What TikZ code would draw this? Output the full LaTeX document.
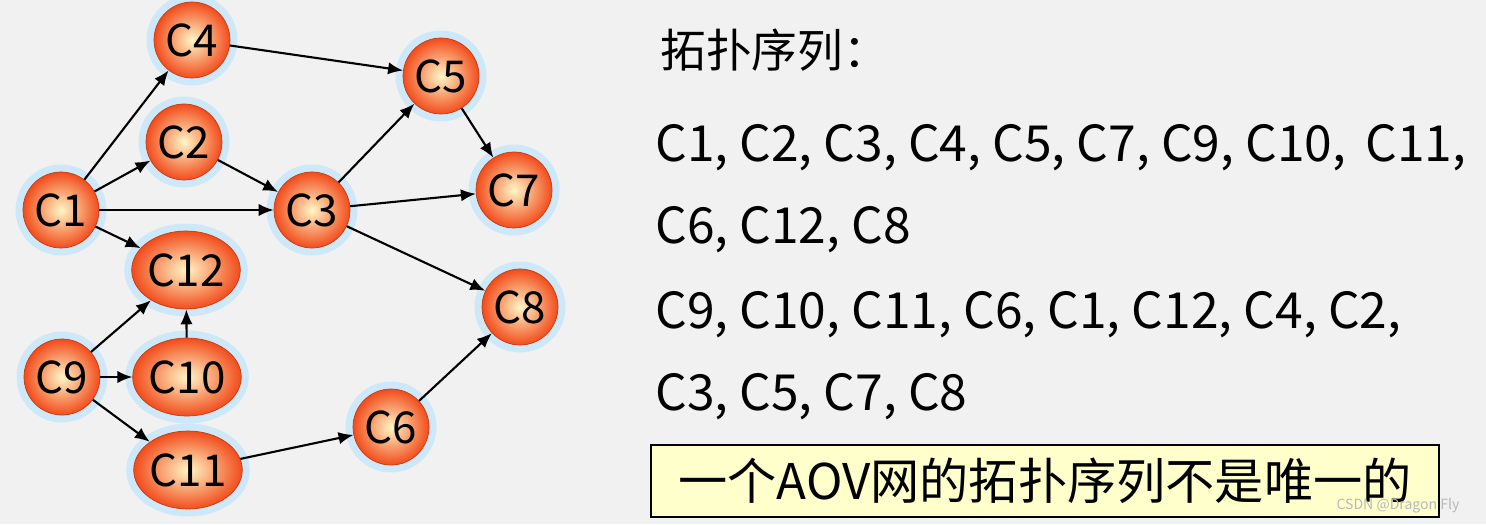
\documentclass[tikz,border=0pt]{standalone}
\usepackage{fontspec}
\setmainfont{Noto Sans CJK SC}
\usetikzlibrary{arrows.meta,shapes.geometric}
\definecolor{bggray}{HTML}{F1F1F1}
\definecolor{halo}{HTML}{CDE9F9}
\definecolor{ballin}{HTML}{FFF6C6}
\definecolor{ballout}{HTML}{F24C1C}
\definecolor{ballrim}{HTML}{C83A10}
\definecolor{notefill}{HTML}{FFFFCC}
\tikzset{
  vtx/.style={circle,minimum size=1.52cm,inner sep=0pt,shading=radial,
    inner color=ballin,outer color=ballout,draw=ballrim,line width=.4pt,
    preaction={draw=halo,line width=.3cm},font=\fontsize{25}{25}\selectfont},
  wvtx/.style={vtx,ellipse,minimum width=1.76cm,minimum height=1.56cm},
  arc/.style={-{Latex[length=8.5pt,width=7pt]},line width=1.2pt},
  seq/.style={anchor=west,inner sep=0pt,font=\fontsize{28.3}{28.3}\selectfont}
}
\begin{document}
\begin{tikzpicture}[x=0.02cm,y=-0.02cm]
\fill[bggray] (0,0) rectangle (1486,524);
\useasboundingbox (0,0) rectangle (1486,524);
% vertices
\node[vtx]  (c4)  at (192,40)  {C4};
\node[vtx]  (c2)  at (184,142) {C2};
\node[vtx]  (c1)  at (61,210)  {C1};
\node[vtx]  (c3)  at (312,210) {C3};
\node[vtx]  (c5)  at (441,76)  {C5};
\node[vtx]  (c7)  at (514,190) {C7};
\node[wvtx] (c12) at (186,270) {C12};
\node[vtx]  (c8)  at (520,307) {C8};
\node[vtx]  (c9)  at (62,377)  {C9};
\node[wvtx] (c10) at (187,377) {C10};
\node[wvtx] (c11) at (188,470) {C11};
\node[vtx]  (c6)  at (391,427) {C6};
% arcs
\draw[arc] (c1)--(c4);
\draw[arc] (c1)--(c2);
\draw[arc] (c1)--(c3);
\draw[arc] (c1)--(c12);
\draw[arc] (c2)--(c3);
\draw[arc] (c4)--(c5);
\draw[arc] (c3)--(c5);
\draw[arc] (c3)--(c7);
\draw[arc] (c3)--(c8);
\draw[arc] (c5)--(c7);
\draw[arc] (c9)--(c12);
\draw[arc] (c9)--(c10);
\draw[arc] (c9)--(c11);
\draw[arc] (c10)--(c12);
\draw[arc] (c11)--(c6);
\draw[arc] (c6)--(c8);
% sequences
\node[seq,font=\fontsize{26}{26}\selectfont] (title) at (660,50) {拓扑序列：};
\node[seq] (s1) at (655,148) {C1, C2, C3, C4, C5, C7, C9, C10,\, C11,};
\node[seq] (s2) at (655,230) {C6, C12, C8};
\node[seq] (s3) at (655,315) {C9, C10, C11, C6, C1, C12, C4, C2,};
\node[seq] (s4) at (655,397) {C3, C5, C7, C8};
\node[draw=black,line width=1.2pt,fill=notefill,minimum width=15.76cm,minimum height=1.44cm,
  font=\fontsize{28}{28}\selectfont] (note) at (1045,481) {一个AOV网的拓扑序列不是唯一的};
\node[text=gray!55,font=\fontsize{8}{8}\selectfont] (mark) at (1398,506) {CSDN @Dragon Fly};
\end{tikzpicture}
\end{document}
